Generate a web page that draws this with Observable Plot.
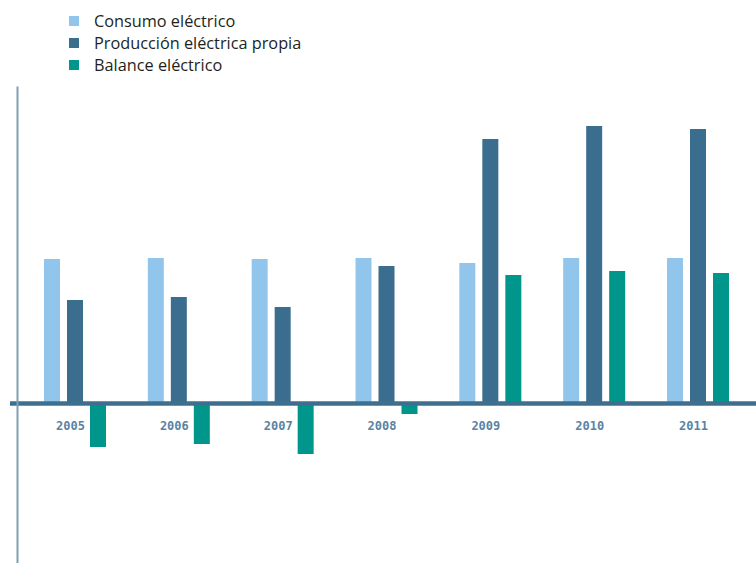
<!DOCTYPE html>
<html>
<head>
<meta charset="utf-8">
<script src="https://cdn.jsdelivr.net/npm/d3@7"></script>
<script src="https://cdn.jsdelivr.net/npm/@observablehq/plot@0.6"></script>
<style>
  html, body { margin: 0; padding: 0; background: #fff; }
  #legend { position: relative; height: 80px; font-family: "Open Sans", sans-serif; font-size: 16.3px; color: #231f20; }
  .item { position: absolute; left: 69px; height: 22px; display: flex; align-items: center; }
  .sw { width: 10px; height: 10px; margin-right: 15px; }
  #chart svg { display: block; }
</style>
</head>
<body>
<div id="legend"></div>
<div id="chart"></div>
<script>
const years = ["2005", "2006", "2007", "2008", "2009", "2010", "2011"];
const seriesNames = ["Consumo eléctrico", "Producción eléctrica propia", "Balance eléctrico"];
const seriesColors = ["#92c5eb", "#3a6d8e", "#00968c"];
const consumo = [144, 145, 144, 145, 140, 145, 145];
const produccion = [103, 106, 96, 137, 264, 277, 274];
const balance = [-44, -41, -51, -11, 128, 132, 130];

const seriesValues = [consumo, produccion, balance];
const data = [];
seriesValues.forEach((vals, s) => vals.forEach((v, i) => data.push({year: years[i], series: seriesNames[s], value: v, s})));

// legend
const legend = document.getElementById("legend");
seriesNames.forEach((name, i) => {
  const d = document.createElement("div");
  d.className = "item";
  d.style.top = (10 + i * 22) + "px";
  d.innerHTML = `<span class="sw" style="background:${seriesColors[i]}"></span><span>${name}</span>`;
  legend.appendChild(d);
});

const barStep = 23;
const barMarks = seriesNames.map((name, s) => Plot.barY(data.filter(d => d.s === s), {
  x: "year", y: "value", fill: seriesColors[s],
  insetLeft: s * barStep, insetRight: (2 - s) * barStep
}));

const chart = Plot.plot({
  width: 756,
  height: 483,
  marginTop: 7,
  marginBottom: 0,
  marginLeft: 17,
  marginRight: 0,
  x: {domain: years, paddingInner: 0.403, paddingOuter: 0.26, round: false, axis: null},
  y: {domain: [-160, 316], axis: null},
  marks: [
    ...barMarks,
    Plot.ruleY([0], {stroke: "#3e6f8f", strokeWidth: 4.5, insetLeft: -7}),
    Plot.frame({anchor: "left", stroke: "#7ea0b6", strokeWidth: 2}),
    Plot.text(years, {x: d => d, y: () => 0, dy: 23, dx: -5, text: d => d,
      fill: "#5a83a2", fontFamily: "DejaVu Sans Mono", fontWeight: "bold", fontSize: 12})
  ]
});
document.getElementById("chart").appendChild(chart);
</script>
</body>
</html>
